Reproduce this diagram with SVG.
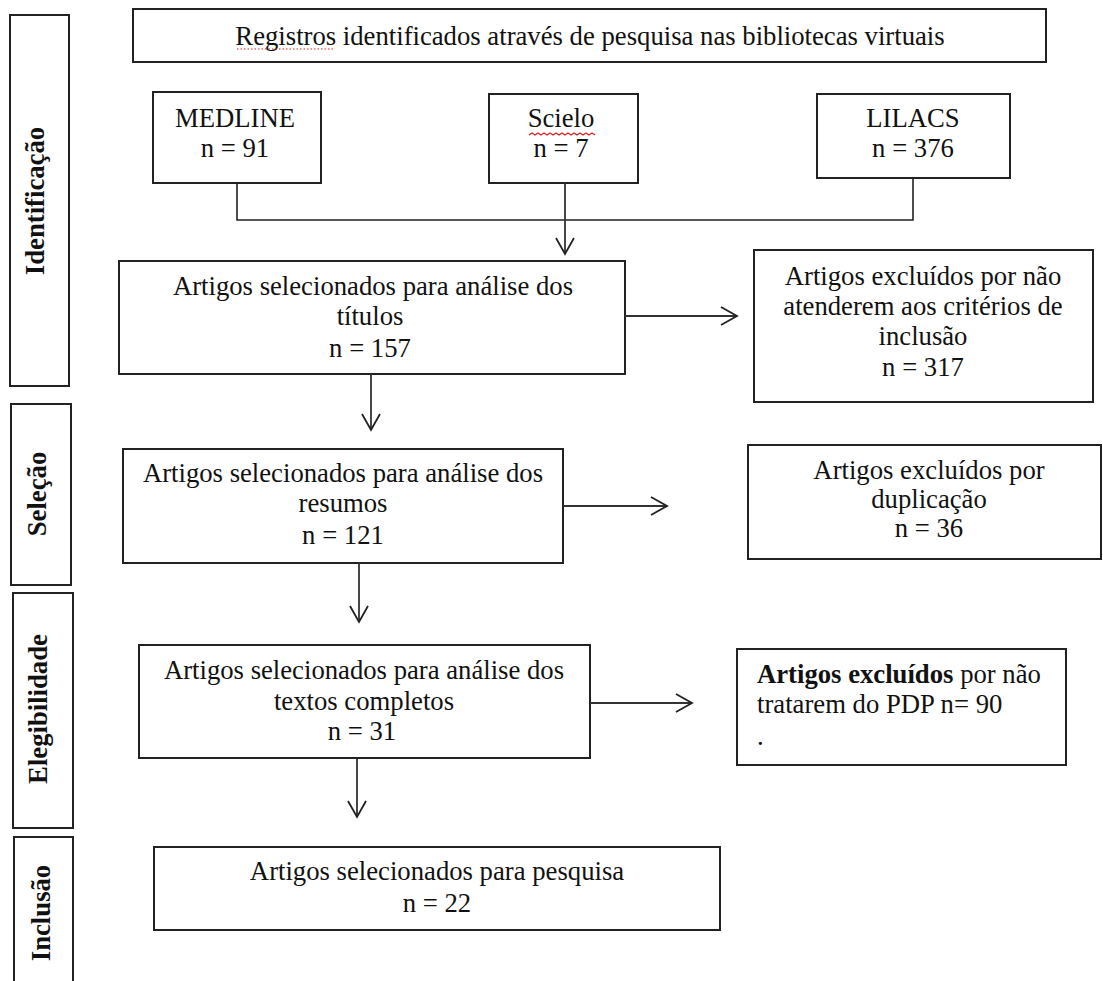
<svg xmlns="http://www.w3.org/2000/svg" width="1103" height="981" viewBox="0 0 1103 981">
<style>
.box{fill:#fff;stroke:#222;stroke-width:2}
.t{font-family:"Liberation Serif","Times New Roman",serif;font-size:26.7px;fill:#111}
.c{text-anchor:middle}
.side{font-family:"Liberation Serif","Times New Roman",serif;font-size:26.7px;font-weight:bold;fill:#111;text-anchor:middle}
.ln{fill:none;stroke:#222;stroke-width:1.6}
.arr{fill:none;stroke:#333;stroke-width:1.8;marker-end:url(#ah)}
.sp{fill:none;stroke:#e02020;stroke-width:1.2}
</style>
<defs>
<marker id="ah" markerUnits="userSpaceOnUse" markerWidth="20" markerHeight="22" viewBox="-18 -11 20 22" refX="0" refY="0" orient="auto">
<path d="M-16,-9 L0,0 L-16,9" fill="none" stroke="#222" stroke-width="1.8"/>
</marker>
</defs>
<rect width="1103" height="981" fill="#fff"/>

<g id="phase-identificacao"><rect class="box" x="10" y="15" width="59" height="371"/><text class="side" transform="translate(44,201) rotate(-90)">Identificação</text></g>
<g id="phase-selecao"><rect class="box" x="11" y="404" width="60" height="181"/><text class="side" transform="translate(46,494) rotate(-90)">Seleção</text></g>
<g id="phase-elegibilidade"><rect class="box" x="13" y="593" width="60" height="235"/><text class="side" transform="translate(47,709) rotate(-90)">Elegibilidade</text></g>
<g id="phase-inclusao"><rect class="box" x="14" y="837" width="59" height="160"/><text class="side" transform="translate(50,913) rotate(-90)">Inclusão</text></g>

<g id="title"><rect class="box" x="133" y="9" width="913" height="53"/><text class="t c" x="590" y="45">Registros identificados através de pesquisa nas bibliotecas virtuais</text></g>

<g id="medline"><rect class="box" x="153" y="92" width="168" height="91"/><text class="t c" x="235" y="127">MEDLINE</text><text class="t c" x="235" y="157">n = 91</text></g>
<g id="scielo"><rect class="box" x="489" y="94" width="149" height="89"/><text class="t c" x="561" y="127">Scielo</text><text class="t c" x="561" y="157">n = 7</text></g>
<g id="lilacs"><rect class="box" x="817" y="94" width="193" height="84"/><text class="t c" x="913" y="127">LILACS</text><text class="t c" x="913" y="157">n = 376</text></g>

<g id="titulos"><rect class="box" x="119" y="261" width="506" height="113"/><text class="t c" x="373" y="295">Artigos selecionados para análise dos</text><text class="t c" x="370" y="325">títulos</text><text class="t c" x="370" y="357">n = 157</text></g>
<g id="excl-criterios"><rect class="box" x="754" y="250" width="339" height="152"/><text class="t c" x="923" y="285">Artigos excluídos por não</text><text class="t c" x="923" y="315">atenderem aos critérios de</text><text class="t c" x="923" y="345">inclusão</text><text class="t c" x="923" y="376">n = 317</text></g>

<g id="resumos"><rect class="box" x="123" y="449" width="440" height="114"/><text class="t c" x="343" y="482">Artigos selecionados para análise dos</text><text class="t c" x="343" y="512">resumos</text><text class="t c" x="343" y="544">n = 121</text></g>
<g id="excl-duplicacao"><rect class="box" x="748" y="445" width="353" height="114"/><text class="t c" x="929" y="479">Artigos excluídos por</text><text class="t c" x="929" y="508">duplicação</text><text class="t c" x="929" y="537">n = 36</text></g>

<g id="textos"><rect class="box" x="139" y="645" width="451" height="113"/><text class="t c" x="364" y="679">Artigos selecionados para análise dos</text><text class="t c" x="364" y="710">textos completos</text><text class="t c" x="362" y="740">n = 31</text></g>
<g id="excl-pdp"><rect class="box" x="737" y="649" width="329" height="116"/><text class="t" x="757" y="683"><tspan font-weight="bold">Artigos excluídos</tspan> por não</text><text class="t" x="757" y="713">tratarem do PDP n= 90</text><text class="t" x="757" y="745">.</text></g>

<g id="pesquisa"><rect class="box" x="154" y="847" width="566" height="83"/><text class="t c" x="437" y="880">Artigos selecionados para pesquisa</text><text class="t c" x="437" y="912">n = 22</text></g>

<g id="connectors">
<polyline class="ln" points="237,183 237,220 913,220 913,178"/>
<line class="arr" x1="565" y1="183" x2="565" y2="254"/>
<line class="arr" x1="625" y1="316" x2="737" y2="316"/>
<line class="arr" x1="371" y1="374" x2="371" y2="430"/>
<line class="arr" x1="563" y1="506" x2="667" y2="506"/>
<line class="arr" x1="359" y1="563" x2="359" y2="622"/>
<line class="arr" x1="590" y1="703" x2="692" y2="703"/>
<line class="arr" x1="357" y1="759" x2="357" y2="817"/>
</g>

<g id="spellcheck-marks">
<path class="sp" stroke-dasharray="1.5,2" d="M237,49 H334"/>
<path class="sp" d="M529,135 l3,-2 l3,2 l3,-2 l3,2 l3,-2 l3,2 l3,-2 l3,2 l3,-2 l3,2 l3,-2 l3,2 l3,-2 l3,2 l3,-2 l3,2 l3,-2 l3,2 l3,-2 l3,2 l3,-2 l3,2"/>
</g>
</svg>
